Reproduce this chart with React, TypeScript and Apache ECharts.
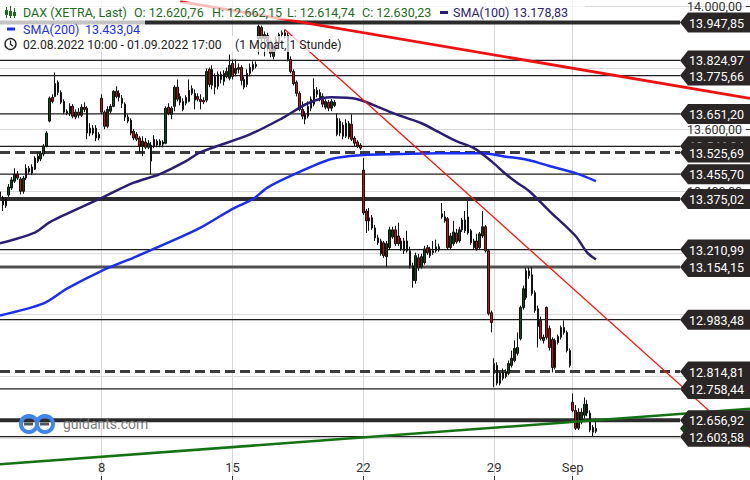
import React, { useEffect, useRef } from "react";
import * as echarts from "echarts";

// ---------- data ----------
const tradingDays = [
  "2022-08-02", "2022-08-03", "2022-08-04", "2022-08-05",
  "2022-08-08", "2022-08-09", "2022-08-10", "2022-08-11", "2022-08-12",
  "2022-08-15", "2022-08-16", "2022-08-17", "2022-08-18", "2022-08-19",
  "2022-08-22", "2022-08-23", "2022-08-24", "2022-08-25", "2022-08-26",
  "2022-08-29", "2022-08-30", "2022-08-31", "2022-09-01",
];
const sessionHours = [9, 10, 11, 12, 13, 14, 15, 16, 17];
const firstHour = 10;
const futureSlots = 53;
const monthNamesDE = ["Jan", "Feb", "Mär", "Apr", "Mai", "Jun", "Jul", "Aug", "Sep", "Okt", "Nov", "Dez"];

// [open, close, low, high]
const ohlc: number[][] = [
  [13398, 13382, 13372, 13408], [13379, 13356, 13336, 13385], [13353, 13375, 13346, 13382], [13388, 13414, 13382, 13424],
  [13411, 13437, 13404, 13446], [13433, 13456, 13427, 13475], [13456, 13443, 13437, 13466], [13440, 13400, 13390, 13446],
  [13400, 13443, 13392, 13450], [13443, 13475, 13437, 13488], [13475, 13463, 13456, 13482], [13479, 13459, 13453, 13488],
  [13472, 13508, 13469, 13514], [13498, 13514, 13492, 13527], [13505, 13524, 13498, 13531], [13521, 13547, 13514, 13553],
  [13547, 13589, 13543, 13595], [13628, 13702, 13624, 13708], [13705, 13692, 13686, 13715], [13708, 13750, 13705, 13786],
  [13754, 13721, 13712, 13760], [13721, 13689, 13683, 13728], [13692, 13657, 13650, 13699], [13660, 13653, 13647, 13666],
  [13653, 13676, 13644, 13686], [13676, 13644, 13637, 13683], [13641, 13657, 13634, 13666], [13657, 13647, 13637, 13670],
  [13647, 13673, 13641, 13683], [13673, 13666, 13657, 13689], [13670, 13589, 13569, 13676], [13605, 13589, 13579, 13621],
  [13589, 13605, 13582, 13615], [13605, 13573, 13563, 13615], [13573, 13585, 13566, 13592], [13702, 13657, 13650, 13715],
  [13657, 13611, 13602, 13663], [13611, 13666, 13605, 13676], [13660, 13676, 13653, 13683], [13676, 13725, 13673, 13728],
  [13725, 13708, 13702, 13741], [13705, 13718, 13692, 13728], [13702, 13686, 13670, 13712], [13683, 13641, 13628, 13689],
  [13641, 13628, 13621, 13650], [13631, 13589, 13582, 13637], [13595, 13573, 13566, 13602], [13585, 13569, 13563, 13592],
  [13573, 13547, 13524, 13579], [13547, 13563, 13514, 13579], [13560, 13543, 13537, 13573], [13543, 13556, 13537, 13566],
  [13498, 13550, 13456, 13560], [13547, 13569, 13540, 13582], [13550, 13563, 13543, 13569], [13563, 13550, 13543, 13569],
  [13560, 13553, 13543, 13566], [13556, 13670, 13553, 13676], [13673, 13653, 13647, 13686], [13650, 13670, 13634, 13676],
  [13676, 13738, 13660, 13744], [13738, 13699, 13692, 13763], [13708, 13689, 13679, 13718], [13666, 13692, 13660, 13702],
  [13686, 13705, 13679, 13712], [13692, 13728, 13689, 13763], [13734, 13718, 13712, 13744], [13718, 13696, 13666, 13731],
  [13708, 13699, 13692, 13718], [13699, 13692, 13666, 13715], [13695, 13690, 13683, 13705], [13696, 13789, 13689, 13799],
  [13796, 13747, 13738, 13802], [13744, 13796, 13731, 13809], [13773, 13738, 13715, 13783], [13741, 13780, 13731, 13789],
  [13780, 13763, 13750, 13789], [13757, 13783, 13744, 13793], [13773, 13789, 13767, 13802], [13767, 13809, 13760, 13844],
  [13815, 13773, 13763, 13828], [13783, 13799, 13773, 13828], [13796, 13802, 13783, 13815], [13802, 13760, 13744, 13809],
  [13763, 13738, 13731, 13773], [13747, 13783, 13738, 13796], [13783, 13802, 13773, 13815], [13796, 13812, 13789, 13822],
  [13806, 13812, 13799, 13822], [13896, 13935, 13844, 13941], [13932, 13896, 13886, 13938], [13896, 13909, 13838, 13919],
  [13906, 13886, 13854, 13915], [13886, 13848, 13835, 13893], [13838, 13870, 13828, 13877], [13864, 13893, 13854, 13903],
  [13880, 13909, 13870, 13915], [13909, 13915, 13899, 13922], [13915, 13906, 13896, 13925], [13906, 13828, 13822, 13915],
  [13828, 13789, 13783, 13838], [13789, 13750, 13744, 13796], [13754, 13718, 13708, 13760], [13718, 13666, 13660, 13725],
  [13666, 13644, 13634, 13692], [13650, 13634, 13618, 13660], [13644, 13676, 13637, 13692], [13670, 13699, 13660, 13708],
  [13683, 13731, 13676, 13767], [13728, 13715, 13705, 13738], [13721, 13699, 13692, 13731], [13708, 13683, 13673, 13718],
  [13673, 13692, 13666, 13699], [13689, 13670, 13660, 13696], [13670, 13692, 13660, 13699], [13679, 13689, 13673, 13696],
  [13637, 13585, 13579, 13653], [13589, 13628, 13579, 13637], [13615, 13579, 13569, 13624], [13579, 13621, 13573, 13634],
  [13621, 13576, 13569, 13628], [13618, 13569, 13563, 13650], [13573, 13556, 13547, 13579], [13560, 13547, 13540, 13566],
  [13550, 13540, 13534, 13556], [13469, 13330, 13323, 13508], [13336, 13304, 13265, 13343], [13304, 13314, 13272, 13346],
  [13314, 13281, 13275, 13323], [13281, 13249, 13239, 13291], [13249, 13233, 13226, 13259], [13239, 13197, 13191, 13246],
  [13233, 13191, 13184, 13239], [13188, 13230, 13155, 13239], [13217, 13275, 13210, 13285], [13252, 13275, 13246, 13285],
  [13275, 13230, 13223, 13288], [13255, 13230, 13223, 13298], [13213, 13239, 13207, 13249], [13207, 13239, 13197, 13249],
  [13239, 13207, 13201, 13272], [13207, 13158, 13149, 13220], [13158, 13110, 13087, 13168], [13110, 13191, 13100, 13201],
  [13184, 13152, 13142, 13197], [13155, 13188, 13149, 13197], [13168, 13213, 13162, 13223], [13217, 13201, 13194, 13226],
  [13191, 13213, 13184, 13220], [13201, 13207, 13194, 13239], [13207, 13220, 13201, 13243], [13210, 13220, 13204, 13230],
  [13327, 13317, 13311, 13362], [13317, 13304, 13298, 13336], [13311, 13217, 13210, 13317], [13217, 13255, 13210, 13265],
  [13230, 13268, 13223, 13304], [13265, 13236, 13230, 13278], [13239, 13275, 13233, 13285], [13275, 13307, 13268, 13314],
  [13307, 13272, 13265, 13336], [13317, 13265, 13259, 13369], [13272, 13233, 13226, 13278], [13239, 13217, 13210, 13246],
  [13239, 13213, 13207, 13262], [13217, 13262, 13210, 13268], [13255, 13285, 13249, 13336], [13285, 13207, 13201, 13291],
  [13207, 13003, 12997, 13213], [13006, 12974, 12942, 13013], [12841, 12809, 12764, 12858], [12835, 12777, 12770, 12845],
  [12777, 12809, 12770, 12815], [12793, 12812, 12786, 12825], [12815, 12799, 12793, 12822], [12809, 12841, 12803, 12851],
  [12835, 12858, 12828, 12883], [12851, 12890, 12845, 12916], [12874, 12893, 12867, 12942], [12922, 13023, 12916, 13029],
  [13023, 13084, 13016, 13094], [13055, 13142, 13048, 13152], [13142, 13126, 13116, 13152], [13129, 13068, 13061, 13155],
  [13071, 13013, 13006, 13078], [13019, 12961, 12893, 13029], [12981, 12922, 12916, 12993], [12916, 12926, 12906, 12935],
  [13023, 12926, 12919, 13026], [12955, 12893, 12883, 12964], [12919, 12828, 12812, 12926], [12828, 12916, 12822, 12922],
  [12909, 12929, 12903, 12935], [12926, 12958, 12919, 12964], [12958, 12942, 12935, 12981], [12942, 12883, 12877, 12948],
  [12883, 12835, 12828, 12890], [12715, 12689, 12683, 12744], [12689, 12631, 12625, 12706], [12631, 12683, 12625, 12696],
  [12657, 12683, 12644, 12696], [12673, 12709, 12663, 12731], [12709, 12680, 12670, 12722], [12680, 12625, 12618, 12689],
  [12634, 12618, 12605, 12641], [12620.76, 12630.23, 12614.74, 12662.15],
];

// [candle index, value]
const sma100: number[][] = [
  [0, 13231], [12, 13266], [17, 13299], [23, 13327], [35, 13379], [46, 13428], [55, 13456], [64, 13498],
  [69, 13527], [86, 13585], [97, 13637], [106, 13686], [114, 13705], [123, 13699], [132, 13666], [138, 13644],
  [145, 13621], [151, 13592], [157, 13563], [163, 13540], [169, 13498], [174, 13456], [178, 13427], [182, 13401],
  [189, 13336], [198, 13255], [202, 13201], [205, 13178.83],
];
const sma200: number[][] = [
  [0, 12997], [15, 13036], [23, 13084], [35, 13142], [46, 13185], [58, 13234], [69, 13282], [80, 13343],
  [87, 13375], [92, 13412], [100, 13450], [114, 13505], [125, 13518], [137, 13521], [151, 13524], [166, 13524],
  [173, 13514], [182, 13501], [189, 13482], [198, 13459], [205, 13433.04],
];

const levels = [13947.85, 13824.97, 13775.66, 13651.2, 13546.04, 13525.69, 13455.7, 13375.02, 13210.99, 13154.15, 12983.48, 12814.81, 12758.44, 12656.92, 12603.58];
const levelKinds = ["thick", "thin", "thin", "thin", "thin", "dash", "thin", "thick", "thin", "mid", "thin", "dash", "thin", "thick", "thin"];

const trendRed = [[62, 14016], [258, 13702]];
const trendRedSteep = [[98, 13925], [258, 12568]];
const trendGreen = [[0, 12514], [258, 12694]];

const yMin = 12462.9;
const yMax = 14015.8;

// ---------- helpers ----------
const fmtDE = (v: number) => {
  const [i, d] = v.toFixed(2).split(".");
  return i.replace(/\B(?=(\d{3})+(?!\d))/g, ".") + "," + d;
};
const pad = (n: number) => String(n).padStart(2, "0");

const categories: string[] = [];
tradingDays.forEach((d, k) => {
  sessionHours.forEach((h) => {
    if (k === 0 && h < firstHour) return;
    categories.push(`${d} ${pad(h)}:00`);
  });
});
for (let i = 0; i < futureSlots; i++) categories.push("");

const labelText: Record<number, string> = {};
categories.forEach((c, i) => {
  if (!c) return;
  const [d, t] = c.split(" ");
  if (t !== `${pad(sessionHours[0])}:00`) return;
  const k = tradingDays.indexOf(d);
  const dt = new Date(d + "T00:00:00Z");
  const prev = k > 0 ? new Date(tradingDays[k - 1] + "T00:00:00Z") : null;
  if (prev && prev.getUTCMonth() !== dt.getUTCMonth()) labelText[i] = monthNamesDE[dt.getUTCMonth()];
  else if (dt.getUTCDay() === 1) labelText[i] = String(dt.getUTCDate());
});
const isLabel = (idx: number) => labelText[idx] !== undefined;

const fmtDate = (c: string) => {
  const [d, t] = c.split(" ");
  const [y, m, dd] = d.split("-");
  return `${dd}.${m}.${y} ${t}`;
};

const FONT = "Roboto, 'Liberation Sans', sans-serif";
const LEG = `12.5px ${FONT}`;

export default function App() {
  const ref = useRef<HTMLDivElement>(null);
  useEffect(() => {
    if (!ref.current) return;
    const chart = echarts.init(ref.current, undefined, { renderer: "svg" });
    const last = ohlc[ohlc.length - 1];
    const lastClose = last[1];
    const tagValues = [lastClose, ...levels];

    const lineStyles: Record<string, any> = {
      thick: { stroke: "#2b2b2b", lineWidth: 4 },
      thin: { stroke: "#1e1e1e", lineWidth: 1.3 },
      dash: { stroke: "#3c3c3c", lineWidth: 3, lineDash: [10, 5] },
      mid: { stroke: "#505050", lineWidth: 3 },
    };
    const green = "#1d6b1d";
    const blue = "#1a2ef2";
    const navy = "#2b1d73";

    const legendRow1 = [
      { x: 23, text: "DAX (XETRA, Last)" },
      { x: 134, text: "O: " + fmtDE(last[0]) },
      { x: 212, text: "H: " + fmtDE(last[3]) },
      { x: 287, text: "L: " + fmtDE(last[2]) },
      { x: 362, text: "C: " + fmtDE(last[1]) },
    ];

    const graphic: any[] = [
      { type: "rect", shape: { x: 0, y: 2, width: 585, height: 17.5 }, style: { fill: "rgba(255,255,255,0.72)" }, z: 100 },
      { type: "rect", shape: { x: 0, y: 20, width: 145, height: 16 }, style: { fill: "rgba(255,255,255,0.72)" }, z: 100 },
      { type: "rect", shape: { x: 0, y: 36, width: 345, height: 16 }, style: { fill: "rgba(255,255,255,0.72)" }, z: 100 },
      // candle icon
      { type: "line", shape: { x1: 6.5, y1: 7, x2: 6.5, y2: 18 }, style: { stroke: green, lineWidth: 1 }, z: 101 },
      { type: "rect", shape: { x: 5, y: 10, width: 3, height: 5 }, style: { fill: green }, z: 101 },
      { type: "line", shape: { x1: 10.5, y1: 6, x2: 10.5, y2: 18 }, style: { stroke: green, lineWidth: 1 }, z: 101 },
      { type: "rect", shape: { x: 9, y: 11, width: 3, height: 5 }, style: { fill: green }, z: 101 },
      { type: "line", shape: { x1: 14.5, y1: 8, x2: 14.5, y2: 18 }, style: { stroke: green, lineWidth: 1 }, z: 101 },
      { type: "rect", shape: { x: 13, y: 12, width: 3, height: 4 }, style: { fill: green }, z: 101 },
      ...legendRow1.map((r) => ({
        type: "text", x: r.x, y: 12.5, z: 101,
        style: { text: r.text, fill: green, font: LEG, textVerticalAlign: "middle" },
      })),
      { type: "rect", shape: { x: 440, y: 11, width: 8, height: 3 }, style: { fill: navy }, z: 101 },
      { type: "text", x: 453, y: 12.5, z: 101, style: { text: "SMA(100)", fill: navy, font: LEG, textVerticalAlign: "middle" } },
      { type: "text", x: 513, y: 12.5, z: 101, style: { text: fmtDE(sma100[sma100.length - 1][1]), fill: navy, font: LEG, textVerticalAlign: "middle" } },
      { type: "rect", shape: { x: 7, y: 27.5, width: 8, height: 3 }, style: { fill: blue }, z: 101 },
      { type: "text", x: 23, y: 29, z: 101, style: { text: "SMA(200)", fill: blue, font: LEG, textVerticalAlign: "middle" } },
      { type: "text", x: 85, y: 29, z: 101, style: { text: fmtDE(sma200[sma200.length - 1][1]), fill: blue, font: LEG, textVerticalAlign: "middle" } },
      { type: "circle", shape: { cx: 10.5, cy: 44, r: 5.5 }, style: { fill: "none", stroke: "#222", lineWidth: 1.4 }, z: 101 },
      { type: "polyline", shape: { points: [[10.5, 40.5], [10.5, 44.3], [13, 46]] }, style: { fill: "none", stroke: "#222", lineWidth: 1.3 }, z: 101 },
      {
        type: "text", x: 23, y: 44.5, z: 101,
        style: {
          text: `${fmtDate(categories[0])} - ${fmtDate(categories[ohlc.length - 1])}`,
          fill: "#222", font: `12.2px ${FONT}`, textVerticalAlign: "middle",
        },
      },
      { type: "text", x: 235, y: 44.5, z: 101, style: { text: "(1 Monat, 1 Stunde)", fill: "#222", font: `12.2px ${FONT}`, textVerticalAlign: "middle" } },
      // guidants logo
      { type: "circle", shape: { cx: 29, cy: 424, r: 8 }, style: { fill: "none", stroke: "#3f86ee", lineWidth: 4 }, z: 101 },
      { type: "circle", shape: { cx: 45, cy: 424, r: 8 }, style: { fill: "none", stroke: "#3f86ee", lineWidth: 4 }, z: 101 },
      { type: "rect", shape: { x: 24, y: 422.5, width: 9, height: 3 }, style: { fill: "#555" }, z: 102 },
      { type: "rect", shape: { x: 40, y: 422.5, width: 9, height: 3 }, style: { fill: "#555" }, z: 102 },
      { type: "text", x: 63, y: 424, z: 101, style: { text: "guidants.com", fill: "#7a7a7a", font: `14px ${FONT}`, textVerticalAlign: "middle" } },
    ];

    chart.setOption({
      animation: false,
      backgroundColor: "#ffffff",
      grid: { left: -1, right: 0, top: 0, bottom: 0, containLabel: false },
      xAxis: {
        type: "category",
        data: categories,
        boundaryGap: false,
        axisLine: { show: false },
        axisTick: { show: true, inside: true, length: 4, interval: (i: number) => isLabel(i), lineStyle: { color: "#333" } },
        axisLabel: {
          inside: true, margin: 6, interval: (i: number) => isLabel(i),
          formatter: (_v: string, i: number) => labelText[i] ?? "",
          color: "#333", fontSize: 13, fontFamily: FONT,
        },
        splitLine: { show: true, interval: (i: number) => isLabel(i), lineStyle: { color: "#d6d6d6", width: 1 } },
      },
      yAxis: {
        type: "value", position: "right", min: yMin, max: yMax, scale: true,
        splitNumber: 7, minInterval: 200, maxInterval: 200,
        axisLine: { show: false },
        axisTick: { show: true, inside: true, length: 4, lineStyle: { color: "#333" } },
        axisLabel: {
          inside: true, margin: 8, color: "#333", fontSize: 12.5, fontFamily: FONT,
          formatter: (v: number) => fmtDE(v), showMinLabel: false, showMaxLabel: false,
        },
        splitLine: { show: true, showMinLine: false, showMaxLine: false, lineStyle: { color: "#d9d9d9", width: 1 } },
      },
      series: [
        {
          type: "custom", z: 1, silent: true, clip: false,
          data: levels.map((v) => [0, v]),
          encode: { x: 0, y: 1 },
          renderItem: (params: any, api: any) => {
            const y = api.coord([0, api.value(1)])[1];
            const cs = params.coordSys;
            const st = lineStyles[levelKinds[params.dataIndex]];
            return {
              type: "line",
              shape: { x1: cs.x, y1: y, x2: cs.x + cs.width - 70, y2: y },
              style: { stroke: st.stroke, lineWidth: st.lineWidth, lineDash: st.lineDash, fill: null },
            };
          },
        },
        {
          type: "candlestick", z: 3, silent: true,
          data: ohlc, barWidth: 2,
          itemStyle: { color: "#0e4a15", color0: "#e3000f", borderColor: "#111", borderColor0: "#111", borderWidth: 1 },
        },
        { type: "line", z: 4, silent: true, data: sma200, smooth: 0.3, showSymbol: false, lineStyle: { color: blue, width: 2.5 } },
        { type: "line", z: 4, silent: true, data: sma100, smooth: 0.3, showSymbol: false, lineStyle: { color: navy, width: 2.5 } },
        { type: "line", z: 5, silent: true, data: trendRed, showSymbol: false, lineStyle: { color: "#ee1111", width: 2.8 } },
        { type: "line", z: 5, silent: true, data: trendRedSteep, showSymbol: false, lineStyle: { color: "#ff1010", width: 1.3 } },
        { type: "line", z: 5, silent: true, data: trendGreen, showSymbol: false, lineStyle: { color: "#137313", width: 2.6 } },
        {
          type: "custom", z: 8, silent: true, clip: false,
          data: tagValues.map((v) => [0, v]),
          encode: { x: 0, y: 1 },
          renderItem: (params: any, api: any) => {
            const v = api.value(1);
            const y = api.coord([0, v])[1];
            const cs = params.coordSys;
            const right = cs.x + cs.width;
            const tip = right - 70;
            const fill = params.dataIndex === 0 ? "#173d17" : "#2a2626";
            return {
              type: "group",
              children: [
                {
                  type: "polygon",
                  shape: { points: [[tip, y], [tip + 8, y - 10], [right, y - 10], [right, y + 10], [tip + 8, y + 10]] },
                  style: { fill },
                },
                {
                  type: "text",
                  style: { text: fmtDE(v), x: right - 6, y: y + 0.5, fill: "#ffffff", font: `12.5px ${FONT}`, textAlign: "right", textVerticalAlign: "middle" },
                },
              ],
            };
          },
        },
      ],
      graphic,
    });
    return () => chart.dispose();
  }, []);
  return <div ref={ref} style={{ position: "fixed", left: 0, top: 0, width: 750, height: 480 }} />;
}
